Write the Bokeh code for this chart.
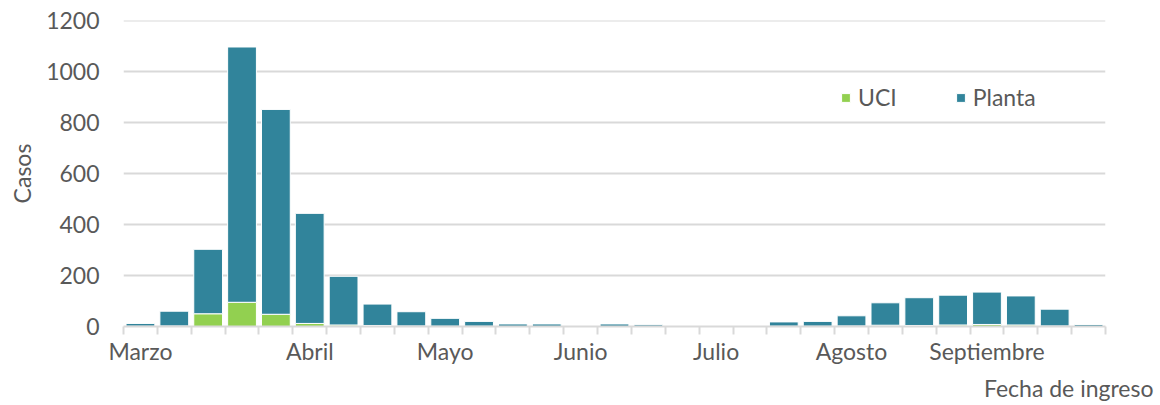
from bokeh.plotting import figure
from bokeh.models import Range1d, FixedTicker, Title, ColumnDataSource
from bokeh.embed import file_html
from bokeh.resources import INLINE

# Weekly admissions (week index from early March)
semanas = list(range(29))
uci = [1, 2, 50, 95, 48, 12, 6, 4, 2, 1, 1, 0, 0, 0, 0, 0, 0, 0, 0, 1, 1, 2, 5, 4, 6, 8, 6, 2, 0]
planta = [11, 58, 253, 1002, 804, 432, 191, 84, 56, 31, 19, 10, 10, 0, 10, 7, 0, 0, 0, 17, 19, 40, 88, 109, 117, 127, 114, 66, 8]
semana_mes = [0, 5, 9, 13, 17, 21, 25]
meses = ["Marzo", "Abril", "Mayo", "Junio", "Julio", "Agosto", "Septiembre"]
series = ["UCI", "Planta"]
colores = ["#92D050", "#31849B"]
y_ticks = [0, 200, 400, 600, 800, 1000, 1200]

FONT = "Lato"
FS = "23px"
TXT = "#595959"
GRID = "#D9D9D9"

src = ColumnDataSource(dict(semana=semanas, UCI=uci, Planta=planta))

p = figure(width=1160, height=405, output_backend="svg", toolbar_location=None,
           x_range=Range1d(-0.5, len(semanas) - 0.5), y_range=Range1d(0, 1201),
           min_border_left=123, min_border_right=55, min_border_top=20, min_border_bottom=77)
p.outline_line_color = None
p.background_fill_color = "white"

p.vbar_stack(series, x="semana", width=0.85, color=colores, source=src,
             line_color="white", line_width=1, legend_label=series)

# grid
p.xgrid.visible = False
p.ygrid.grid_line_color = GRID
p.ygrid.grid_line_width = 2
p.ygrid.ticker = FixedTicker(ticks=y_ticks)

# y axis
ya = p.yaxis[0]
ya.ticker = FixedTicker(ticks=y_ticks)
ya.axis_line_color = None
ya.major_tick_line_color = None
ya.minor_tick_line_color = None
ya.major_tick_out = 0
ya.major_label_standoff = 24
ya.major_label_text_font = FONT
ya.major_label_text_font_size = FS
ya.major_label_text_color = TXT
ya.axis_label = "Casos"
ya.axis_label_text_font = FONT
ya.axis_label_text_font_size = FS
ya.axis_label_text_font_style = "normal"
ya.axis_label_text_color = TXT
ya.axis_label_standoff = 7

# x axis
xa = p.xaxis[0]
xa.ticker = FixedTicker(ticks=semana_mes, minor_ticks=[i - 0.5 for i in range(len(semanas) + 1)])
xa.major_label_overrides = {s: m for s, m in zip(semana_mes, meses)}
xa.major_tick_line_color = None
xa.major_tick_out = 0
xa.major_tick_in = 0
xa.minor_tick_line_color = GRID
xa.minor_tick_line_width = 2
xa.minor_tick_out = 8
xa.minor_tick_in = 0
xa.axis_line_color = GRID
xa.axis_line_width = 2
xa.major_label_standoff = 2
xa.major_label_text_font = FONT
xa.major_label_text_font_size = FS
xa.major_label_text_color = TXT

p.add_layout(Title(text="Fecha de ingreso", align="right", offset=-48, standoff=8,
                   text_font=FONT, text_font_size=FS, text_font_style="normal",
                   text_color=TXT), "below")

lg = p.legend[0]
lg.orientation = "horizontal"
lg.location = (717, 215)
lg.border_line_color = None
lg.background_fill_alpha = 0
lg.label_text_font = FONT
lg.label_text_font_size = FS
lg.label_text_color = TXT
lg.glyph_width = 11
lg.glyph_height = 11
lg.spacing = 58
lg.padding = 0
lg.margin = 0
lg.label_standoff = 7

open("out.html", "w").write(file_html(p, INLINE))
